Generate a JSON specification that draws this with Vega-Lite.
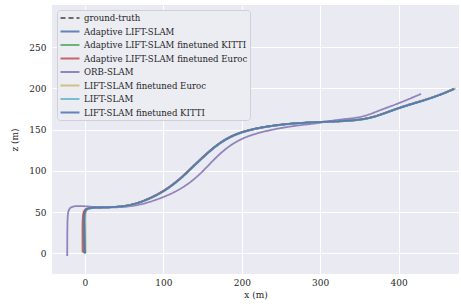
{
  "$schema": "https://vega.github.io/schema/vega-lite/v6.json",
  "width": 407,
  "height": 269,
  "autosize": "none",
  "padding": {"left": 52, "top": 5, "right": 2, "bottom": 32},
  "background": "white",
  "config": {
    "view": {"fill": "#EAEAF2", "stroke": null},
    "font": "DejaVu Serif",
    "axis": {
      "domain": false, "ticks": false, "gridColor": "white", "gridWidth": 1,
      "labelFont": "DejaVu Serif", "labelFontSize": 9, "labelColor": "#262626",
      "titleFont": "DejaVu Serif", "titleFontSize": 9, "titleColor": "#262626", "titleFontWeight": "normal"
    }
  },
  "data": {"values": [
    {"s": "ground-truth", "i": 0, "x": 0, "z": 0},
    {"s": "ground-truth", "i": 1, "x": -0.5, "z": 25},
    {"s": "ground-truth", "i": 2, "x": -1, "z": 45},
    {"s": "ground-truth", "i": 3, "x": 0, "z": 52},
    {"s": "ground-truth", "i": 4, "x": 4, "z": 55},
    {"s": "ground-truth", "i": 5, "x": 19, "z": 55.6},
    {"s": "ground-truth", "i": 6, "x": 36, "z": 56},
    {"s": "ground-truth", "i": 7, "x": 57, "z": 57.5},
    {"s": "ground-truth", "i": 8, "x": 79, "z": 64.5},
    {"s": "ground-truth", "i": 9, "x": 100, "z": 74.5},
    {"s": "ground-truth", "i": 10, "x": 121, "z": 89},
    {"s": "ground-truth", "i": 11, "x": 144, "z": 110.8},
    {"s": "ground-truth", "i": 12, "x": 172, "z": 135},
    {"s": "ground-truth", "i": 13, "x": 198, "z": 147},
    {"s": "ground-truth", "i": 14, "x": 227, "z": 153},
    {"s": "ground-truth", "i": 15, "x": 261, "z": 157.5},
    {"s": "ground-truth", "i": 16, "x": 300, "z": 159.3},
    {"s": "ground-truth", "i": 17, "x": 338, "z": 160.6},
    {"s": "ground-truth", "i": 18, "x": 367, "z": 164},
    {"s": "ground-truth", "i": 19, "x": 398, "z": 176},
    {"s": "ground-truth", "i": 20, "x": 427, "z": 184},
    {"s": "ground-truth", "i": 21, "x": 453, "z": 192},
    {"s": "ground-truth", "i": 22, "x": 471, "z": 199.4},

    {"s": "Adaptive LIFT-SLAM", "i": 0, "x": -1.5, "z": 0.5},
    {"s": "Adaptive LIFT-SLAM", "i": 1, "x": -1.8, "z": 25},
    {"s": "Adaptive LIFT-SLAM", "i": 2, "x": -2, "z": 45},
    {"s": "Adaptive LIFT-SLAM", "i": 3, "x": -0.8, "z": 52},
    {"s": "Adaptive LIFT-SLAM", "i": 4, "x": 3.5, "z": 55.2},
    {"s": "Adaptive LIFT-SLAM", "i": 5, "x": 19, "z": 55.4},
    {"s": "Adaptive LIFT-SLAM", "i": 6, "x": 36, "z": 55.9},
    {"s": "Adaptive LIFT-SLAM", "i": 7, "x": 57, "z": 57.6},
    {"s": "Adaptive LIFT-SLAM", "i": 8, "x": 79, "z": 64.8},
    {"s": "Adaptive LIFT-SLAM", "i": 9, "x": 100, "z": 74.8},
    {"s": "Adaptive LIFT-SLAM", "i": 10, "x": 121, "z": 89.5},
    {"s": "Adaptive LIFT-SLAM", "i": 11, "x": 144, "z": 111.2},
    {"s": "Adaptive LIFT-SLAM", "i": 12, "x": 172, "z": 135.3},
    {"s": "Adaptive LIFT-SLAM", "i": 13, "x": 198, "z": 147.2},
    {"s": "Adaptive LIFT-SLAM", "i": 14, "x": 227, "z": 153.2},
    {"s": "Adaptive LIFT-SLAM", "i": 15, "x": 261, "z": 157.4},
    {"s": "Adaptive LIFT-SLAM", "i": 16, "x": 300, "z": 159},
    {"s": "Adaptive LIFT-SLAM", "i": 17, "x": 338, "z": 160.2},
    {"s": "Adaptive LIFT-SLAM", "i": 18, "x": 367, "z": 163.6},
    {"s": "Adaptive LIFT-SLAM", "i": 19, "x": 398, "z": 175.6},
    {"s": "Adaptive LIFT-SLAM", "i": 20, "x": 427, "z": 183.5},
    {"s": "Adaptive LIFT-SLAM", "i": 21, "x": 453, "z": 191.8},
    {"s": "Adaptive LIFT-SLAM", "i": 22, "x": 470, "z": 199},

    {"s": "Adaptive LIFT-SLAM finetuned KITTI", "i": 0, "x": -1, "z": 0.3},
    {"s": "Adaptive LIFT-SLAM finetuned KITTI", "i": 1, "x": -1.2, "z": 25},
    {"s": "Adaptive LIFT-SLAM finetuned KITTI", "i": 2, "x": -1.5, "z": 45},
    {"s": "Adaptive LIFT-SLAM finetuned KITTI", "i": 3, "x": -0.4, "z": 52},
    {"s": "Adaptive LIFT-SLAM finetuned KITTI", "i": 4, "x": 3.8, "z": 55.1},
    {"s": "Adaptive LIFT-SLAM finetuned KITTI", "i": 5, "x": 19, "z": 55.5},
    {"s": "Adaptive LIFT-SLAM finetuned KITTI", "i": 6, "x": 36, "z": 56.1},
    {"s": "Adaptive LIFT-SLAM finetuned KITTI", "i": 7, "x": 57, "z": 57.7},
    {"s": "Adaptive LIFT-SLAM finetuned KITTI", "i": 8, "x": 79, "z": 64.9},
    {"s": "Adaptive LIFT-SLAM finetuned KITTI", "i": 9, "x": 100, "z": 75},
    {"s": "Adaptive LIFT-SLAM finetuned KITTI", "i": 10, "x": 121, "z": 89.6},
    {"s": "Adaptive LIFT-SLAM finetuned KITTI", "i": 11, "x": 144, "z": 111.4},
    {"s": "Adaptive LIFT-SLAM finetuned KITTI", "i": 12, "x": 172, "z": 135.5},
    {"s": "Adaptive LIFT-SLAM finetuned KITTI", "i": 13, "x": 198, "z": 147.4},
    {"s": "Adaptive LIFT-SLAM finetuned KITTI", "i": 14, "x": 227, "z": 153.3},
    {"s": "Adaptive LIFT-SLAM finetuned KITTI", "i": 15, "x": 261, "z": 157.6},
    {"s": "Adaptive LIFT-SLAM finetuned KITTI", "i": 16, "x": 300, "z": 159.2},
    {"s": "Adaptive LIFT-SLAM finetuned KITTI", "i": 17, "x": 338, "z": 160.4},
    {"s": "Adaptive LIFT-SLAM finetuned KITTI", "i": 18, "x": 367, "z": 163.8},
    {"s": "Adaptive LIFT-SLAM finetuned KITTI", "i": 19, "x": 398, "z": 175.8},
    {"s": "Adaptive LIFT-SLAM finetuned KITTI", "i": 20, "x": 427, "z": 183.7},
    {"s": "Adaptive LIFT-SLAM finetuned KITTI", "i": 21, "x": 453, "z": 192},
    {"s": "Adaptive LIFT-SLAM finetuned KITTI", "i": 22, "x": 471, "z": 199.2},

    {"s": "Adaptive LIFT-SLAM finetuned Euroc", "i": 0, "x": -3, "z": 1.5},
    {"s": "Adaptive LIFT-SLAM finetuned Euroc", "i": 1, "x": -3.2, "z": 25},
    {"s": "Adaptive LIFT-SLAM finetuned Euroc", "i": 2, "x": -3, "z": 45},
    {"s": "Adaptive LIFT-SLAM finetuned Euroc", "i": 3, "x": -1.5, "z": 52},
    {"s": "Adaptive LIFT-SLAM finetuned Euroc", "i": 4, "x": 3, "z": 55.3},
    {"s": "Adaptive LIFT-SLAM finetuned Euroc", "i": 5, "x": 19, "z": 55.7},
    {"s": "Adaptive LIFT-SLAM finetuned Euroc", "i": 6, "x": 36, "z": 56.2},
    {"s": "Adaptive LIFT-SLAM finetuned Euroc", "i": 7, "x": 57, "z": 57.8},
    {"s": "Adaptive LIFT-SLAM finetuned Euroc", "i": 8, "x": 79, "z": 65},
    {"s": "Adaptive LIFT-SLAM finetuned Euroc", "i": 9, "x": 100, "z": 75.2},
    {"s": "Adaptive LIFT-SLAM finetuned Euroc", "i": 10, "x": 121, "z": 89.8},
    {"s": "Adaptive LIFT-SLAM finetuned Euroc", "i": 11, "x": 144, "z": 111.5},
    {"s": "Adaptive LIFT-SLAM finetuned Euroc", "i": 12, "x": 172, "z": 135.6},
    {"s": "Adaptive LIFT-SLAM finetuned Euroc", "i": 13, "x": 198, "z": 147.5},
    {"s": "Adaptive LIFT-SLAM finetuned Euroc", "i": 14, "x": 227, "z": 153.4},
    {"s": "Adaptive LIFT-SLAM finetuned Euroc", "i": 15, "x": 261, "z": 157.6},
    {"s": "Adaptive LIFT-SLAM finetuned Euroc", "i": 16, "x": 300, "z": 159.4},
    {"s": "Adaptive LIFT-SLAM finetuned Euroc", "i": 17, "x": 338, "z": 160.7},
    {"s": "Adaptive LIFT-SLAM finetuned Euroc", "i": 18, "x": 367, "z": 164.2},
    {"s": "Adaptive LIFT-SLAM finetuned Euroc", "i": 19, "x": 398, "z": 176.2},
    {"s": "Adaptive LIFT-SLAM finetuned Euroc", "i": 20, "x": 427, "z": 184.2},
    {"s": "Adaptive LIFT-SLAM finetuned Euroc", "i": 21, "x": 453, "z": 192.3},
    {"s": "Adaptive LIFT-SLAM finetuned Euroc", "i": 22, "x": 470, "z": 199.5},

    {"s": "ORB-SLAM", "i": 0, "x": -22.6, "z": -3.3},
    {"s": "ORB-SLAM", "i": 1, "x": -22.5, "z": 25},
    {"s": "ORB-SLAM", "i": 2, "x": -22.2, "z": 45},
    {"s": "ORB-SLAM", "i": 3, "x": -21, "z": 53},
    {"s": "ORB-SLAM", "i": 4, "x": -17, "z": 57},
    {"s": "ORB-SLAM", "i": 5, "x": -8, "z": 57.6},
    {"s": "ORB-SLAM", "i": 6, "x": 5, "z": 56.8},
    {"s": "ORB-SLAM", "i": 7, "x": 19, "z": 55.5},
    {"s": "ORB-SLAM", "i": 8, "x": 40, "z": 55.6},
    {"s": "ORB-SLAM", "i": 9, "x": 60, "z": 57},
    {"s": "ORB-SLAM", "i": 10, "x": 79, "z": 61},
    {"s": "ORB-SLAM", "i": 11, "x": 100, "z": 68},
    {"s": "ORB-SLAM", "i": 12, "x": 121, "z": 77},
    {"s": "ORB-SLAM", "i": 13, "x": 144, "z": 92.6},
    {"s": "ORB-SLAM", "i": 14, "x": 166, "z": 115.7},
    {"s": "ORB-SLAM", "i": 15, "x": 185, "z": 131.4},
    {"s": "ORB-SLAM", "i": 16, "x": 206.6, "z": 142.4},
    {"s": "ORB-SLAM", "i": 17, "x": 236, "z": 149.6},
    {"s": "ORB-SLAM", "i": 18, "x": 265, "z": 154.5},
    {"s": "ORB-SLAM", "i": 19, "x": 300, "z": 158},
    {"s": "ORB-SLAM", "i": 20, "x": 316, "z": 161.2},
    {"s": "ORB-SLAM", "i": 21, "x": 340, "z": 163.5},
    {"s": "ORB-SLAM", "i": 22, "x": 357, "z": 166},
    {"s": "ORB-SLAM", "i": 23, "x": 376, "z": 173.5},
    {"s": "ORB-SLAM", "i": 24, "x": 402, "z": 182.4},
    {"s": "ORB-SLAM", "i": 25, "x": 428.6, "z": 193.3},

    {"s": "LIFT-SLAM finetuned Euroc", "i": 0, "x": 1, "z": 0.2},
    {"s": "LIFT-SLAM finetuned Euroc", "i": 1, "x": 0.8, "z": 25},
    {"s": "LIFT-SLAM finetuned Euroc", "i": 2, "x": 0.5, "z": 45},
    {"s": "LIFT-SLAM finetuned Euroc", "i": 3, "x": 1.2, "z": 51.5},
    {"s": "LIFT-SLAM finetuned Euroc", "i": 4, "x": 4.5, "z": 54.8},
    {"s": "LIFT-SLAM finetuned Euroc", "i": 5, "x": 19, "z": 55.4},
    {"s": "LIFT-SLAM finetuned Euroc", "i": 6, "x": 36, "z": 55.8},
    {"s": "LIFT-SLAM finetuned Euroc", "i": 7, "x": 57, "z": 57.3},
    {"s": "LIFT-SLAM finetuned Euroc", "i": 8, "x": 79, "z": 64.3},
    {"s": "LIFT-SLAM finetuned Euroc", "i": 9, "x": 100, "z": 74.3},
    {"s": "LIFT-SLAM finetuned Euroc", "i": 10, "x": 121, "z": 88.8},
    {"s": "LIFT-SLAM finetuned Euroc", "i": 11, "x": 144, "z": 110.6},
    {"s": "LIFT-SLAM finetuned Euroc", "i": 12, "x": 172, "z": 134.8},
    {"s": "LIFT-SLAM finetuned Euroc", "i": 13, "x": 198, "z": 146.8},
    {"s": "LIFT-SLAM finetuned Euroc", "i": 14, "x": 227, "z": 152.8},
    {"s": "LIFT-SLAM finetuned Euroc", "i": 15, "x": 261, "z": 157.2},
    {"s": "LIFT-SLAM finetuned Euroc", "i": 16, "x": 300, "z": 159},
    {"s": "LIFT-SLAM finetuned Euroc", "i": 17, "x": 338, "z": 160.3},
    {"s": "LIFT-SLAM finetuned Euroc", "i": 18, "x": 367, "z": 163.7},
    {"s": "LIFT-SLAM finetuned Euroc", "i": 19, "x": 398, "z": 175.9},
    {"s": "LIFT-SLAM finetuned Euroc", "i": 20, "x": 427, "z": 184},
    {"s": "LIFT-SLAM finetuned Euroc", "i": 21, "x": 453, "z": 192.2},
    {"s": "LIFT-SLAM finetuned Euroc", "i": 22, "x": 473, "z": 200},

    {"s": "LIFT-SLAM", "i": 0, "x": 0.3, "z": 0},
    {"s": "LIFT-SLAM", "i": 1, "x": 0, "z": 25},
    {"s": "LIFT-SLAM", "i": 2, "x": -0.5, "z": 45},
    {"s": "LIFT-SLAM", "i": 3, "x": 0.5, "z": 52},
    {"s": "LIFT-SLAM", "i": 4, "x": 4.2, "z": 55},
    {"s": "LIFT-SLAM", "i": 5, "x": 19, "z": 55.5},
    {"s": "LIFT-SLAM", "i": 6, "x": 36, "z": 55.9},
    {"s": "LIFT-SLAM", "i": 7, "x": 57, "z": 57.4},
    {"s": "LIFT-SLAM", "i": 8, "x": 79, "z": 64.4},
    {"s": "LIFT-SLAM", "i": 9, "x": 100, "z": 74.4},
    {"s": "LIFT-SLAM", "i": 10, "x": 121, "z": 88.9},
    {"s": "LIFT-SLAM", "i": 11, "x": 144, "z": 110.7},
    {"s": "LIFT-SLAM", "i": 12, "x": 172, "z": 134.9},
    {"s": "LIFT-SLAM", "i": 13, "x": 198, "z": 146.9},
    {"s": "LIFT-SLAM", "i": 14, "x": 227, "z": 152.9},
    {"s": "LIFT-SLAM", "i": 15, "x": 261, "z": 157.3},
    {"s": "LIFT-SLAM", "i": 16, "x": 300, "z": 159.1},
    {"s": "LIFT-SLAM", "i": 17, "x": 338, "z": 160.5},
    {"s": "LIFT-SLAM", "i": 18, "x": 367, "z": 163.9},
    {"s": "LIFT-SLAM", "i": 19, "x": 398, "z": 175.9},
    {"s": "LIFT-SLAM", "i": 20, "x": 427, "z": 183.9},
    {"s": "LIFT-SLAM", "i": 21, "x": 453, "z": 192.1},
    {"s": "LIFT-SLAM", "i": 22, "x": 471, "z": 199.5},

    {"s": "LIFT-SLAM finetuned KITTI", "i": 0, "x": 0, "z": 0.1},
    {"s": "LIFT-SLAM finetuned KITTI", "i": 1, "x": -0.6, "z": 25},
    {"s": "LIFT-SLAM finetuned KITTI", "i": 2, "x": -1.1, "z": 45},
    {"s": "LIFT-SLAM finetuned KITTI", "i": 3, "x": 0, "z": 52},
    {"s": "LIFT-SLAM finetuned KITTI", "i": 4, "x": 4, "z": 55.1},
    {"s": "LIFT-SLAM finetuned KITTI", "i": 5, "x": 19, "z": 55.6},
    {"s": "LIFT-SLAM finetuned KITTI", "i": 6, "x": 36, "z": 56},
    {"s": "LIFT-SLAM finetuned KITTI", "i": 7, "x": 57, "z": 57.5},
    {"s": "LIFT-SLAM finetuned KITTI", "i": 8, "x": 79, "z": 64.6},
    {"s": "LIFT-SLAM finetuned KITTI", "i": 9, "x": 100, "z": 74.6},
    {"s": "LIFT-SLAM finetuned KITTI", "i": 10, "x": 121, "z": 89.1},
    {"s": "LIFT-SLAM finetuned KITTI", "i": 11, "x": 144, "z": 110.9},
    {"s": "LIFT-SLAM finetuned KITTI", "i": 12, "x": 172, "z": 135.1},
    {"s": "LIFT-SLAM finetuned KITTI", "i": 13, "x": 198, "z": 147.1},
    {"s": "LIFT-SLAM finetuned KITTI", "i": 14, "x": 227, "z": 153.1},
    {"s": "LIFT-SLAM finetuned KITTI", "i": 15, "x": 261, "z": 157.5},
    {"s": "LIFT-SLAM finetuned KITTI", "i": 16, "x": 300, "z": 159.2},
    {"s": "LIFT-SLAM finetuned KITTI", "i": 17, "x": 338, "z": 160.5},
    {"s": "LIFT-SLAM finetuned KITTI", "i": 18, "x": 367, "z": 163.9},
    {"s": "LIFT-SLAM finetuned KITTI", "i": 19, "x": 398, "z": 175.9},
    {"s": "LIFT-SLAM finetuned KITTI", "i": 20, "x": 427, "z": 183.8},
    {"s": "LIFT-SLAM finetuned KITTI", "i": 21, "x": 453, "z": 192},
    {"s": "LIFT-SLAM finetuned KITTI", "i": 22, "x": 471, "z": 199.3}
  ]},
  "mark": {"type": "line", "interpolate": "basis", "strokeWidth": 1.8, "opacity": 0.85, "clip": true},
  "encoding": {
    "x": {"field": "x", "type": "quantitative", "title": "x (m)",
      "scale": {"domain": [-42, 477], "nice": false, "zero": false},
      "axis": {"values": [0, 100, 200, 300, 400], "labelPadding": 4, "titlePadding": 3}},
    "y": {"field": "z", "type": "quantitative", "title": "z (m)",
      "scale": {"domain": [-25, 301], "nice": false, "zero": false},
      "axis": {"values": [0, 50, 100, 150, 200, 250], "labelPadding": 6, "titlePadding": 9}},
    "order": {"field": "i", "type": "quantitative"},
    "color": {"field": "s", "type": "nominal",
      "scale": {
        "domain": ["ground-truth", "Adaptive LIFT-SLAM", "Adaptive LIFT-SLAM finetuned KITTI", "Adaptive LIFT-SLAM finetuned Euroc", "ORB-SLAM", "LIFT-SLAM finetuned Euroc", "LIFT-SLAM", "LIFT-SLAM finetuned KITTI"],
        "range": ["#555555", "#4C72B0", "#55A868", "#C44E52", "#8172B2", "#CCB974", "#64B5CD", "#4C72B0"]},
      "legend": {
        "title": null, "orient": "none", "legendX": 5, "legendY": 5,
        "symbolType": "M-2,0H2", "symbolSize": 90, "symbolStrokeWidth": 2, "symbolOpacity": 0.85, "symbolOffset": 5,
        "labelFont": "DejaVu Serif", "labelFontSize": 8.6, "labelColor": "#262626", "labelOffset": 8, "labelLimit": 300,
        "rowPadding": 2.5, "padding": 2, "fillColor": "#ECECF3", "strokeColor": "#D0D0D8", "cornerRadius": 3
      }},
    "strokeDash": {"field": "s", "type": "nominal",
      "scale": {
        "domain": ["ground-truth", "Adaptive LIFT-SLAM", "Adaptive LIFT-SLAM finetuned KITTI", "Adaptive LIFT-SLAM finetuned Euroc", "ORB-SLAM", "LIFT-SLAM finetuned Euroc", "LIFT-SLAM", "LIFT-SLAM finetuned KITTI"],
        "range": [[5, 3], [1, 0], [1, 0], [1, 0], [1, 0], [1, 0], [1, 0], [1, 0]]},
      "legend": {
        "title": null, "orient": "none", "legendX": 5, "legendY": 5,
        "symbolType": "M-2,0H2", "symbolSize": 90, "symbolStrokeWidth": 2, "symbolOffset": 5,
        "labelFont": "DejaVu Serif", "labelFontSize": 8.6, "labelColor": "#262626", "labelOffset": 8, "labelLimit": 300,
        "rowPadding": 2.5, "padding": 2, "fillColor": "#ECECF3", "strokeColor": "#D0D0D8", "cornerRadius": 3
      }}
  }
}
